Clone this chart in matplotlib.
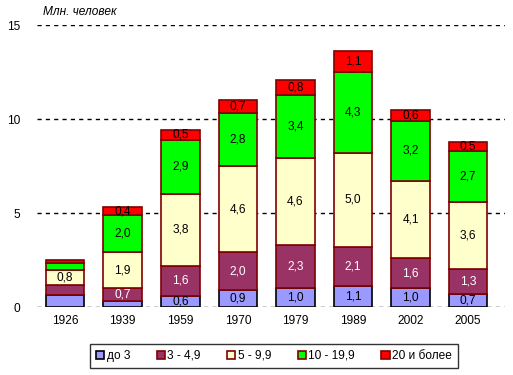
import matplotlib.pyplot as plt
import numpy as np

plt.rcParams["font.family"] = ["Liberation Sans", "DejaVu Sans"]

years = ["1926", "1939", "1959", "1970", "1979", "1989", "2002", "2005"]
groups = ["до 3", "3 - 4,9", "5 - 9,9", "10 - 19,9", "20 и более"]

upto3 = [0.65, 0.3, 0.6, 0.9, 1.0, 1.1, 1.0, 0.7]
from3 = [0.5, 0.7, 1.6, 2.0, 2.3, 2.1, 1.6, 1.3]
from5 = [0.8, 1.9, 3.8, 4.6, 4.6, 5.0, 4.1, 3.6]
from10 = [0.4, 2.0, 2.9, 2.8, 3.4, 4.3, 3.2, 2.7]
over20 = [0.15, 0.4, 0.5, 0.7, 0.8, 1.1, 0.6, 0.5]

# which labels to hide (index of year for each series)
hidden = {0: [0, 1], 1: [0], 3: [0], 4: [0]}

series = [upto3, from3, from5, from10, over20]
colors = ["#9999FF", "#993366", "#FFFFCC", "#00FF00", "#FF0000"]
edges = ["black", "#800000", "#800000", "#800000", "#800000"]
text_colors = ["black", "white", "black", "black", "black"]
fs = 8.6

fig = plt.figure(figsize=(5.13, 3.75), dpi=100)
ax = fig.add_axes([37 / 513, 1 - 307 / 375, 468 / 513, 282 / 375])

x = np.arange(len(years))
bottom = np.zeros(len(years))
for i, vals in enumerate(series):
    vals = np.array(vals)
    ax.bar(x, vals, 0.67, bottom=bottom, color=colors[i], edgecolor=edges[i],
           linewidth=1.2, label=groups[i], zorder=3)
    for j, v in enumerate(vals):
        if j in hidden.get(i, []):
            continue
        ax.text(x[j], bottom[j] + v / 2, f"{v:.1f}".replace(".", ","),
                ha="center", va="center", fontsize=fs, color=text_colors[i], zorder=4)
    bottom += vals

ax.set_xlim(-0.49, 7.64)
ax.set_ylim(0, 15)
ax.set_yticks([0, 5, 10, 15])
ax.set_xticks(x, years)
ax.tick_params(length=0, labelsize=fs, pad=6)
ax.tick_params(axis="y", pad=12)
for s in ax.spines.values():
    s.set_visible(False)
for yv in [0, 5, 10, 15]:
    ax.axhline(yv, color="black", linestyle=(0, (3, 3)), linewidth=1, zorder=1)

fig.text(43 / 513, 1 - 12 / 375, "Млн. человек", fontsize=fs, style="italic",
         ha="left", va="center")

leg = fig.legend(loc="center", bbox_to_anchor=(274 / 513, 1 - 356 / 375), ncol=5,
                 fontsize=fs, frameon=True, fancybox=False, edgecolor="black",
                 handlelength=0.7, handleheight=0.7, handletextpad=0.2,
                 columnspacing=2.2, borderpad=0.5)
leg.get_frame().set_linewidth(1)

fig.savefig("out.png", dpi=100)
